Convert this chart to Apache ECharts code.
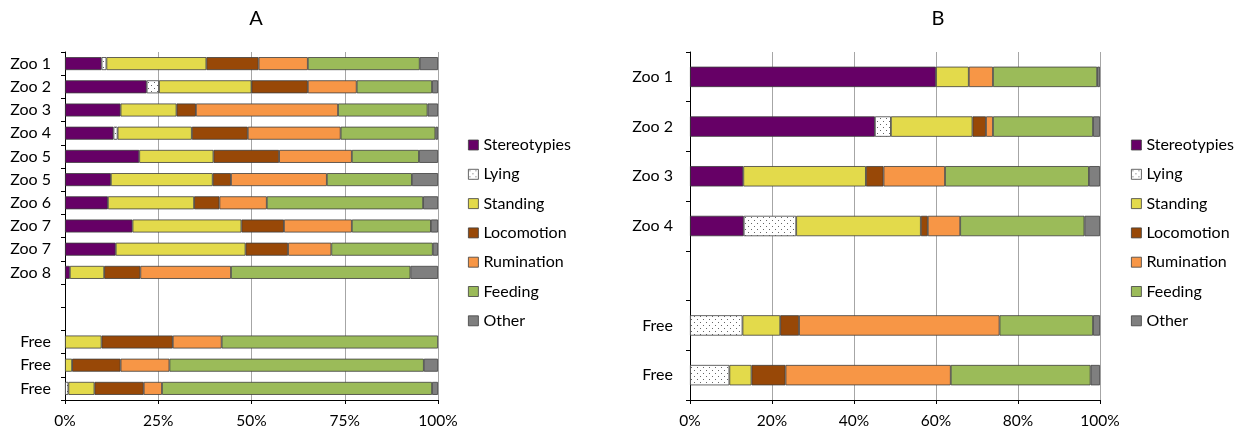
<!DOCTYPE html>
<html><head><meta charset="utf-8">
<script src="https://cdn.jsdelivr.net/npm/echarts@6/dist/echarts.min.js"></script>
<style>html,body{margin:0;padding:0;background:#fff}#c{width:1239px;height:432px}</style>
</head><body><div id="c"></div>
<script>
const behaviours = ['Stereotypies','Lying','Standing','Locomotion','Rumination','Feeding','Other'];
const colors = ['#660066', null, '#E3DA4B', '#984807', '#F79646', '#9BBB59', '#7F7F7F'];

const categoriesA = ['Zoo 1','Zoo 2','Zoo 3','Zoo 4','Zoo 5','Zoo 5','Zoo 6','Zoo 7','Zoo 7','Zoo 8','','','Free','Free','Free'];
const stereoA   = [9.8,21.9,14.9,13.0,19.9,12.3,11.5,18.1,13.6,1.3,null,null,0,0,0];
const lyingA    = [1.3,3.3,0,1.1,0,0,0,0,0,0,null,null,0,0,0.9];
const standingA = [26.8,24.8,15.0,19.9,19.9,27.3,23.1,29.2,34.8,9.2,null,null,9.8,1.9,7.0];
const locoA     = [14.0,15.1,5.2,15.0,17.6,4.9,6.8,11.4,11.4,9.7,null,null,19.1,13.0,13.2];
const rumA      = [13.2,13.1,38.1,24.9,19.5,25.7,12.7,18.2,11.6,24.3,null,null,13.1,13.1,4.9];
const feedA     = [30.0,20.2,24.0,25.4,18.0,22.8,41.9,21.2,27.2,48.1,null,null,58.0,68.2,72.4];
const otherA    = [4.9,1.6,2.8,0.7,5.1,7.0,4.0,1.9,1.4,7.4,null,null,0,3.8,1.6];

const categoriesB = ['Zoo 1','Zoo 2','Zoo 3','Zoo 4','','Free','Free'];
const stereoB   = [60.0,45.1,13.0,13.1,null,0,0];
const lyingB    = [0,3.9,0,12.8,null,12.8,9.6];
const standingB = [8.0,19.9,29.9,30.4,null,9.2,5.4];
const locoB     = [0,3.3,4.3,1.7,null,4.6,8.3];
const rumB      = [5.9,1.7,15.0,7.9,null,48.9,40.3];
const feedB     = [25.4,24.4,35.1,30.3,null,22.8,34.1];
const otherB    = [0.7,1.7,2.7,3.8,null,1.7,2.3];

const ticksA = [0,25,50,75,100];
const ticksB = [0,20,40,60,80,100];

const seriesA = [stereoA,lyingA,standingA,locoA,rumA,feedA,otherA];
const seriesB = [stereoB,lyingB,standingB,locoB,rumB,feedB,otherB];

// dotted pattern for Lying
const pc = document.createElement('canvas');
pc.width = 6; pc.height = 6;
const pctx = pc.getContext('2d');
pctx.fillStyle = '#ffffff'; pctx.fillRect(0,0,6,6);
pctx.fillStyle = '#666666'; pctx.fillRect(1,1,1,1); pctx.fillRect(4,4,1,1);
const lyingPattern = {image: pc, repeat: 'repeat'};

const FONT = 'Lato, "Open Sans", sans-serif';
const clean = arr => arr.map(v => (v === null || v === 0) ? '-' : v);

function xAxisFor(gi, interval) {
  return {
    gridIndex: gi, type: 'value', min: 0, max: 100, interval: interval,
    axisLine: {show: true, lineStyle: {color: '#000', width: 1}},
    axisTick: {show: true, length: 4, lineStyle: {color: '#000'}},
    axisLabel: {formatter: '{value}%', color: '#000', fontSize: 15.5, fontFamily: FONT, margin: 13},
    splitLine: {show: true, lineStyle: {color: '#A6A6A6', width: 1}}
  };
}
function yAxisFor(gi, cats, margin) {
  return {
    gridIndex: gi, type: 'category', data: cats, inverse: true,
    axisLine: {show: true, lineStyle: {color: '#000', width: 1}},
    axisTick: {show: true, length: 4, inside: false, lineStyle: {color: '#000'}},
    axisLabel: {color: '#000', fontSize: 16, fontFamily: FONT, margin: margin},
    splitLine: {show: false}
  };
}

const series = [];
[[seriesA, 0, '56%'], [seriesB, 1, '41%']].forEach(([set, gi, bw]) => {
  set.forEach((arr, i) => {
    series.push({
      name: behaviours[i], type: 'bar', stack: 'g' + gi,
      xAxisIndex: gi, yAxisIndex: gi, barWidth: bw,
      data: clean(arr),
      itemStyle: {color: i === 1 ? lyingPattern : colors[i], borderColor: '#3F3F3F', borderWidth: 0.8},
      emphasis: {disabled: true}, animation: false
    });
  });
});

function legendAt(left) {
  return {
    orient: 'vertical', left: left, top: 137, padding: 0, itemWidth: 10, itemHeight: 10, itemGap: 13.3,
    icon: 'rect', data: behaviours,
    textStyle: {color: '#000', fontSize: 16, fontFamily: FONT},
    itemStyle: {borderColor: '#3F3F3F', borderWidth: 0.8},
    selectedMode: false
  };
}

const chart = echarts.init(document.getElementById('c'));
chart.setOption({
  animation: false,
  title: [
    {text: 'A', left: 251, top: 4, textAlign: 'center', textStyle: {fontSize: 20, fontWeight: 'normal', color: '#000', fontFamily: FONT}},
    {text: 'B', left: 933, top: 4, textAlign: 'center', textStyle: {fontSize: 20, fontWeight: 'normal', color: '#000', fontFamily: FONT}}
  ],
  legend: [legendAt(468), legendAt(1131)],
  grid: [
    {left: 65, top: 52, width: 373, height: 348, containLabel: false},
    {left: 690, top: 52, width: 410, height: 348, containLabel: false}
  ],
  xAxis: [xAxisFor(0, ticksA[1] - ticksA[0]), xAxisFor(1, ticksB[1] - ticksB[0])],
  yAxis: [yAxisFor(0, categoriesA, 14), yAxisFor(1, categoriesB, 17)],
  series: series
});
</script></body></html>
